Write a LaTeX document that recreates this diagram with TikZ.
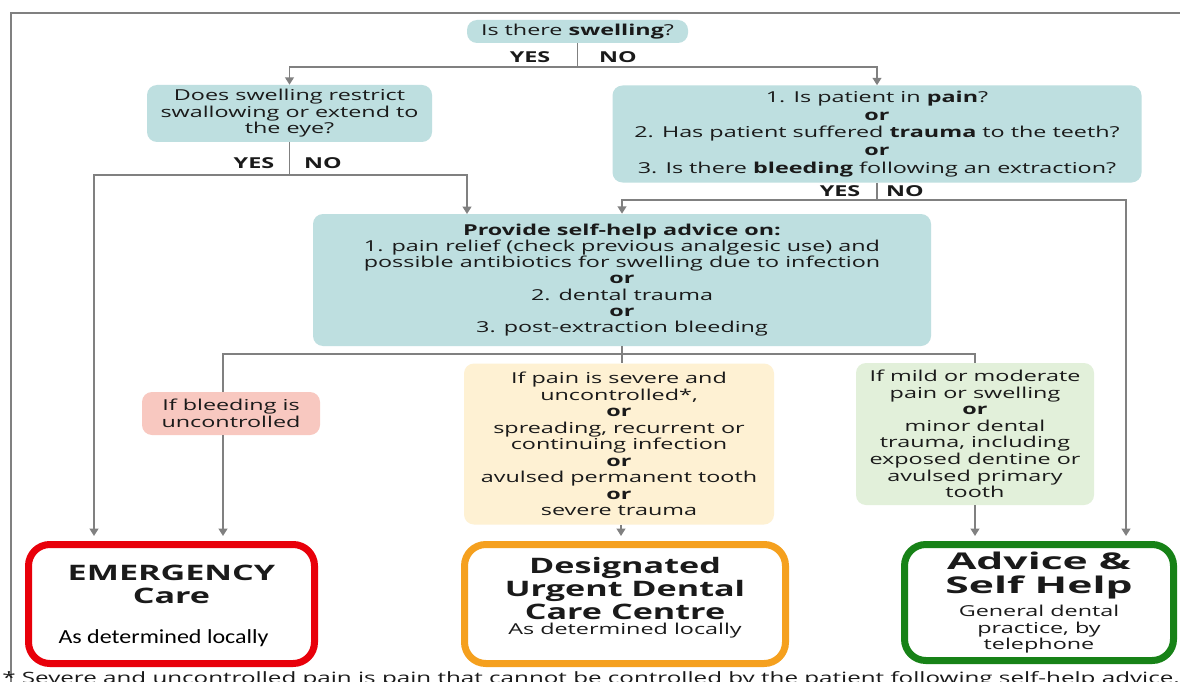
\documentclass[tikz,border=0pt]{standalone}
\usepackage{fontspec}
\setmainfont{Open Sans}[FakeStretch=1.55]
\newfontfamily\ttlfont{Open Sans}[FakeStretch=1.6]
\newfontfamily\advfont{Open Sans}[FakeStretch=1.85]
\newfontfamily\calib{Carlito}[FakeStretch=1.2]
\usetikzlibrary{arrows.meta}
\definecolor{teal1}{HTML}{BEDFE0}
\definecolor{pink1}{HTML}{F8C8C0}
\definecolor{yel1}{HTML}{FEF1D3}
\definecolor{grn1}{HTML}{E2F0DA}
\definecolor{red1}{HTML}{E8000A}
\definecolor{org1}{HTML}{F5A01E}
\definecolor{grn2}{HTML}{178217}
\definecolor{ln}{HTML}{808080}
\definecolor{txt}{HTML}{1A1A1A}
\tikzset{
  box/.style={fill=teal1, rounded corners=7.5pt, inner sep=0pt, align=center,
    font=\fontsize{11.3}{12.4}\selectfont, text=txt},
  conn/.style={draw=ln, line width=1.3pt},
  arr/.style={conn, -{Triangle[width=6.5pt,length=5.5pt]}},
  final/.style={line width=5.25pt, rounded corners=16pt, fill=white, inner sep=0pt},
  yn/.style={font=\bfseries\fontsize{11.3}{12}\selectfont, text=txt, inner sep=0pt},
  ttl/.style={font=\ttlfont\bfseries\fontsize{16}{17.6}\selectfont, text=txt, align=center, inner sep=0pt},
  sub/.style={font=\fontsize{11.3}{12.4}\selectfont, text=txt, align=center, inner sep=0pt}
}
\begin{document}
\begin{tikzpicture}[x=0.75pt,y=-0.75pt]
\useasboundingbox (0,0) rectangle (1180,681);
\clip (0,0) rectangle (1180,681);
\fill[white] (0,0) rectangle (1180,681);
\draw[ln, line width=1.2pt] (10.7,690) -- (10.7,13) -- (1185,13);

% question boxes
\node[box, minimum width=165.75pt, minimum height=17.25pt] (q1) at (577.5,31.5)
  {Is there \textbf{swelling}?};
\node[box, minimum width=213.75pt, minimum height=42.75pt] (q2) at (289.5,113.5)
  {Does swelling restrict\\swallowing or extend to\\the eye?};
\node[box, minimum width=396.75pt, minimum height=72.75pt, font=\fontsize{11.3}{13.4}\selectfont] (q3) at (877,134)
  {1. Is patient in \textbf{pain}?\\\textbf{or}\\2. Has patient suffered \textbf{trauma} to the teeth?\\\textbf{or}\\3. Is there \textbf{bleeding} following an extraction?};
\node[box, minimum width=463.5pt, minimum height=99pt, font=\fontsize{11.3}{12.2}\selectfont] (adv) at (622,280)
  {\textbf{Provide self-help advice on:}\\1. pain relief (check previous analgesic use) and\\possible antibiotics for swelling due to infection\\\textbf{or}\\2. dental trauma\\\textbf{or}\\3. post-extraction bleeding};
\node[box, fill=pink1, minimum width=133.5pt, minimum height=32.25pt] (pink) at (231,413.5)
  {If bleeding is\\uncontrolled};
\node[box, fill=yel1, minimum width=232.5pt, minimum height=120.75pt] (yel) at (619,444)
  {If pain is severe and\\uncontrolled*,\\\textbf{or}\\spreading, recurrent or\\continuing infection\\\textbf{or}\\avulsed permanent tooth\\\textbf{or}\\severe trauma};
\node[box, fill=grn1, minimum width=178.5pt, minimum height=106.5pt] (gsm) at (975,434)
  {If mild or moderate\\pain or swelling\\\textbf{or}\\minor dental\\trauma, including\\exposed dentine or\\avulsed primary\\tooth};

% outcome boxes
\node[final, draw=red1, minimum width=214.5pt, minimum height=89.25pt] (emg) at (171.5,604) {};
\node[final, draw=org1, minimum width=240.75pt, minimum height=89.25pt] (org) at (625,604) {};
\node[final, draw=grn2, minimum width=201.75pt, minimum height=87pt] (grn) at (1039,602.5) {};

\node[ttl] (emgt) at (171.5,584.5) {EMERGENCY\\Care};
\node[font=\calib\fontsize{15}{18}\selectfont, text=black, inner sep=0pt] (emgs) at (163.5,638) {As determined locally};
\node[ttl] (orgt) at (625,588.5) {Designated\\Urgent Dental\\Care Centre};
\node[sub] (orgs) at (625,631) {As determined locally};
\node[ttl, font=\advfont\bfseries\fontsize{17.3}{18}\selectfont] (grnt) at (1039,576) {Advice \&\\Self Help};
\node[sub] (grns) at (1039,629.5) {General dental\\practice, by\\telephone};

% yes / no labels
\node[yn] (y1) at (530,57) {YES};
\node[yn] (n1) at (618,57) {NO};
\node[yn] (y2) at (254,163) {YES};
\node[yn] (n2) at (323,163) {NO};
\node[yn] (y3) at (840,191) {YES};
\node[yn] (n3) at (905,191) {NO};

% junction coordinates
\coordinate (j1) at (577.5,67);
\coordinate (j2) at (289.5,175);
\coordinate (j3) at (877,200);
\coordinate (j4) at (622,354);
\coordinate (a1) at (467,214);
\coordinate (p1) at (223,392);
\coordinate (e1) at (94,536);
\coordinate (e2) at (223,536);
\coordinate (o1) at (621,536);
\coordinate (g1) at (975,536);
\coordinate (g2) at (1126,536);

% connectors
\draw[conn] (q1.south) -- (j1);
\draw[arr] (j1) -| (q2.north);
\draw[arr] (j1) -| (q3.north);
\draw[conn] (q2.south) -- (j2);
\draw[arr] (j2) -| (e1);
\draw[arr] (j2) -| (a1);
\draw[conn] (q3.south) -- (j3);
\draw[arr] (j3) -| (adv.north);
\draw[arr] (j3) -| (g2);
\draw[conn] (adv.south) -- (j4);
\draw[conn] (j4) -| (p1);
\draw[conn] (j4) -- (yel.north -| j4);
\draw[conn] (j4) -| (gsm.north);
\draw[arr] (pink.south -| p1) -- (e2);
\draw[arr] (yel.south -| o1) -- (o1);
\draw[arr] (gsm.south) -- (g1);

% footnote (cut off at the bottom edge, as in the reference)
\node[anchor=base west, inner sep=0pt, font=\fontsize{11.7}{12}\selectfont, text=txt] (fn) at (2,683)
  {* Severe and uncontrolled pain is pain that cannot be controlled by the patient following self-help advice.};
\end{tikzpicture}
\end{document}
